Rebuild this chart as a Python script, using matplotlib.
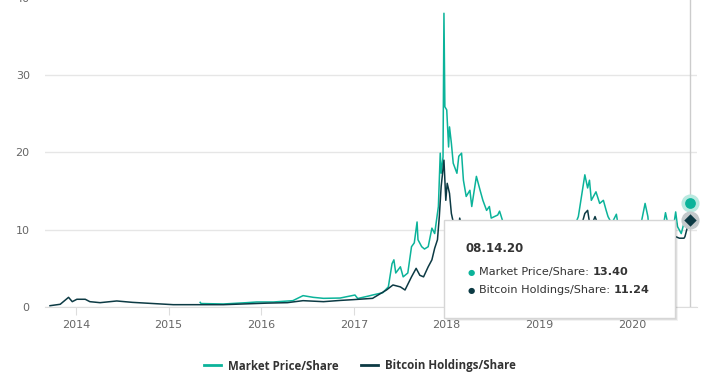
import matplotlib
matplotlib.use("Agg")
import matplotlib.pyplot as plt
from matplotlib.patches import Rectangle
from matplotlib.lines import Line2D

# Market price per share (decimal year, value)
price_t = [2015.34, 2015.35, 2015.59, 2015.84, 2015.95, 2016.13, 2016.34, 2016.45, 2016.56,
           2016.67, 2016.85, 2017.01, 2017.04, 2017.15, 2017.20, 2017.31, 2017.37, 2017.41,
           2017.43, 2017.45, 2017.50, 2017.53, 2017.58, 2017.62, 2017.65, 2017.68, 2017.69,
           2017.73, 2017.76, 2017.80, 2017.84, 2017.87, 2017.91, 2017.93, 2017.94, 2017.96,
           2017.97, 2017.98, 2018.00, 2018.02, 2018.03, 2018.05, 2018.07, 2018.11, 2018.13,
           2018.16, 2018.18, 2018.21, 2018.25, 2018.27, 2018.32, 2018.36, 2018.39, 2018.43,
           2018.46, 2018.48, 2018.55, 2018.57, 2018.62, 2018.70, 2018.80, 2018.88, 2018.92,
           2018.97, 2019.05, 2019.15, 2019.25, 2019.33, 2019.38, 2019.42, 2019.49, 2019.52,
           2019.54, 2019.56, 2019.61, 2019.65, 2019.69, 2019.72, 2019.74, 2019.78, 2019.83,
           2019.86, 2019.95, 2020.05, 2020.10, 2020.14, 2020.17, 2020.21, 2020.28, 2020.33,
           2020.36, 2020.39, 2020.44, 2020.47, 2020.49, 2020.53, 2020.56, 2020.59, 2020.61,
           2020.62]
price_v = [0.6, 0.45, 0.39, 0.56, 0.65, 0.65, 0.82, 1.47, 1.25,
           1.12, 1.16, 1.55, 1.1, 1.4, 1.55, 1.85, 2.6, 5.6,
           6.1, 4.4, 5.2, 3.9, 4.4, 7.8, 8.3, 11.0, 8.7,
           7.8, 7.5, 7.8, 10.2, 9.5, 13.0, 19.9, 17.3, 19.4,
           38.0, 25.9, 25.5, 20.7, 23.3, 21.2, 18.6, 17.3, 19.5,
           19.9, 16.4, 14.3, 15.1, 13.0, 16.9, 15.1, 13.8, 12.5,
           13.0, 11.5, 11.9, 12.4, 10.5, 9.8, 8.6, 7.5, 5.2,
           4.4, 4.9, 5.1, 6.5, 9.5, 10.5, 11.7, 17.1, 15.4,
           16.4, 13.8, 14.9, 13.4, 13.8, 12.5, 11.7, 10.8, 12.0,
           9.8, 8.5, 9.7, 11.0, 13.4, 11.7, 6.5, 7.8, 10.0,
           12.2, 10.5, 9.8, 12.3, 10.4, 9.5, 10.9, 10.5, 12.5,
           13.40]

# Bitcoin holdings per share
btc_t = [2013.72, 2013.83, 2013.92, 2013.96, 2014.01, 2014.10, 2014.15, 2014.26, 2014.44,
         2014.61, 2014.80, 2015.05, 2015.23, 2015.59, 2015.80, 2016.06, 2016.28, 2016.45,
         2016.67, 2016.85, 2016.99, 2017.20, 2017.35, 2017.42, 2017.50, 2017.55, 2017.62,
         2017.67, 2017.71, 2017.75, 2017.80, 2017.84, 2017.87, 2017.90, 2017.92, 2017.94,
         2017.97, 2017.99, 2018.005, 2018.03, 2018.05, 2018.07, 2018.10, 2018.14, 2018.18,
         2018.22, 2018.26, 2018.30, 2018.35, 2018.40, 2018.45, 2018.50, 2018.55, 2018.58,
         2018.62, 2018.70, 2018.80, 2018.87, 2018.90, 2018.95, 2019.00, 2019.10, 2019.20,
         2019.28, 2019.36, 2019.42, 2019.46, 2019.49, 2019.52, 2019.55, 2019.60, 2019.65,
         2019.72, 2019.75, 2019.82, 2019.88, 2020.00, 2020.10, 2020.14, 2020.20, 2020.21,
         2020.30, 2020.36, 2020.42, 2020.47, 2020.51, 2020.56, 2020.57, 2020.60, 2020.62]
btc_v = [0.17, 0.35, 1.25, 0.69, 1.0, 1.0, 0.69, 0.56, 0.78,
         0.6, 0.47, 0.3, 0.3, 0.3, 0.39, 0.5, 0.56, 0.82,
         0.69, 0.85, 0.95, 1.12, 2.2, 2.85, 2.6, 2.2, 3.9,
         5.0, 4.1, 3.9, 5.2, 6.1, 7.6, 8.7, 11.7, 15.6,
         19.0, 13.8, 16.0, 14.7, 12.1, 11.0, 7.0, 11.5, 9.5,
         8.2, 6.8, 8.8, 9.6, 8.4, 7.5, 6.1, 7.4, 8.1,
         6.3, 6.5, 6.4, 6.2, 4.3, 3.3, 3.8, 3.4, 3.9,
         5.0, 7.9, 8.5, 10.8, 12.1, 12.5, 10.2, 11.7, 10.0,
         10.2, 8.1, 9.3, 7.2, 7.2, 9.3, 10.1, 8.7, 5.0,
         7.0, 8.8, 9.6, 9.1, 8.9, 8.9, 9.1, 10.5, 11.24]

years = [2014, 2015, 2016, 2017, 2018, 2019, 2020]
y_ticks = [0, 10, 20, 30, 40]
hover_date = "08.14.20"

GREEN = "#0bb39a"
DARK = "#0c3a44"
W, H = 709, 382


def px(x, y):
    # pixel position -> figure fraction
    return x / W, 1 - y / H


fig = plt.figure(figsize=(W / 100, H / 100), dpi=100)
ax = fig.add_axes([45 / W, 75 / H, 652 / W, 309.2 / H])

ax.plot(price_t, price_v, color=GREEN, lw=1.1, zorder=3)
ax.plot(btc_t, btc_v, color=DARK, lw=1.1, zorder=4)

ax.set_xlim(2013.666, 2020.70)
ax.set_ylim(0, 40)
ax.set_xticks(years)
ax.set_xticklabels([str(y) for y in years])
ax.set_yticks(y_ticks)
ax.grid(axis="y", color="#e6e6e6", lw=1)
ax.set_axisbelow(True)
for s in ["top", "right", "left"]:
    ax.spines[s].set_visible(False)
ax.spines["bottom"].set_color("#dddddd")
ax.tick_params(axis="x", length=6, color="#dddddd", labelcolor="#666666", labelsize=8, pad=3)
ax.tick_params(axis="y", length=0, labelcolor="#666666", labelsize=8, pad=11)

# crosshair + hover markers
ax.axvline(2020.62, color="#cccccc", lw=1, zorder=2)
ax.scatter([2020.62], [13.40], s=170, color="#b9e9e0", zorder=6, clip_on=False, lw=0)
ax.scatter([2020.62], [13.40], s=60, color=GREEN, zorder=7, clip_on=False, lw=0)
ax.scatter([2020.62], [11.24], s=170, color="#c3c9cb", zorder=6, clip_on=False, lw=0)
ax.scatter([2020.62], [11.24], s=40, marker="D", color=DARK, zorder=7, clip_on=False, lw=0)

# tooltip
x0, y0 = px(444, 318)
bw, bh = 231 / W, 98 / H
for off, a in [(3, 0.05), (2, 0.08), (1, 0.12)]:
    fig.add_artist(Rectangle((x0 + off / W, y0 - off / H), bw, bh, transform=fig.transFigure,
                             facecolor="black", alpha=a, lw=0, zorder=9))
fig.add_artist(Rectangle((x0, y0), bw, bh, transform=fig.transFigure,
                         facecolor="white", edgecolor="#d6d6d6", lw=1, zorder=10))

fig.text(*px(466, 248), hover_date, fontsize=8.5, fontweight="bold", color="#333333",
         va="center", ha="left", zorder=11)
rows = [("Market Price/Share: ", f"{price_v[-1]:.2f}", GREEN, 272),
        ("Bitcoin Holdings/Share: ", f"{btc_v[-1]:.2f}", DARK, 290)]
for label, val, col, yy in rows:
    fig.text(*px(471, yy), "\u25cf", fontsize=6, color=col, va="center", ha="center", zorder=11)
    t = fig.text(*px(479, yy), label, fontsize=8.1, color="#333333", va="center", ha="left", zorder=11)
    fig.add_artist(plt.Annotation(val, xy=(1, 0.5), xycoords=t, fontsize=8.1, fontweight="bold",
                                  color="#333333", va="center", ha="left", zorder=11))

# legend
handles = [Line2D([], [], color=GREEN, lw=2), Line2D([], [], color=DARK, lw=2)]
fig.legend(handles, ["Market Price/Share", "Bitcoin Holdings/Share"], loc="center",
           bbox_to_anchor=px(360, 366), ncol=2, frameon=False,
           prop={"family": "Open Sans", "weight": "bold", "size": 8.3},
           handlelength=1.5, handletextpad=0.6, columnspacing=1.9, labelcolor="#333333")

fig.savefig("out.png", dpi=100)
